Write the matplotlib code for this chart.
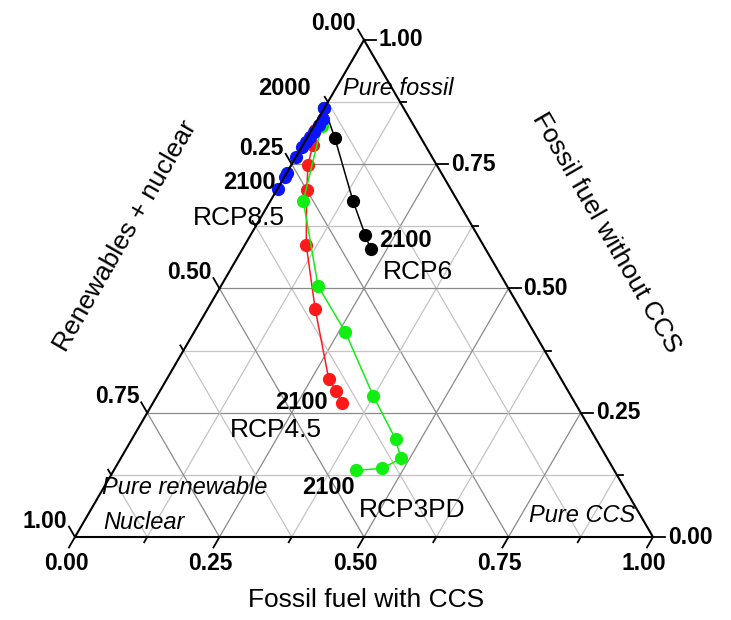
import numpy as np
import matplotlib.pyplot as plt

plt.rcParams['font.family'] = ['Liberation Sans', 'DejaVu Sans']

# shares of fossil fuel with CCS and fossil fuel without CCS, 2000 -> 2100
# (renewables + nuclear is the remainder)
rcp85_ccs = [0.0, 0.008, 0.008, 0.006, 0.004, 0.002, 0.0, 0.0, 0.0, 0.0, 0.0]
rcp85_fossil = [0.863, 0.842, 0.829, 0.815, 0.805, 0.795, 0.785, 0.765, 0.732, 0.725, 0.701]

rcp6_ccs = [0.0, 0.048, 0.143, 0.198, 0.222]
rcp6_fossil = [0.863, 0.803, 0.676, 0.608, 0.579]

rcp45_ccs = [0.0, 0.005, 0.017, 0.029, 0.052, 0.106, 0.186, 0.280, 0.305, 0.327]
rcp45_fossil = [0.863, 0.819, 0.789, 0.748, 0.698, 0.588, 0.459, 0.318, 0.294, 0.270]

rcp3_ccs = [0.0, 0.013, 0.057, 0.168, 0.261, 0.374, 0.456, 0.485, 0.462, 0.419]
rcp3_fossil = [0.863, 0.827, 0.676, 0.505, 0.413, 0.284, 0.197, 0.158, 0.138, 0.134]

ticks = [0.0, 0.25, 0.5, 0.75, 1.0]
minor = [0.125, 0.375, 0.625, 0.875]

H = np.sqrt(3) / 2


def tern(ccs, fossil):
    ccs = np.asarray(ccs)
    fossil = np.asarray(fossil)
    return ccs + fossil / 2, fossil * H


fig = plt.figure(figsize=(7.31, 6.2), dpi=100)
ax = fig.add_axes([0, 0, 1, 1])
ax.set_xlim(-75 / 578, (731 - 75) / 578)
ax.set_ylim(-83 / 573.9, (620 - 83) / 573.9)
ax.axis('off')

# grid
for v in sorted(ticks[1:-1] + minor):
    col = '#8a8a8a' if v in ticks else '#c4c4c4'
    # fossil = v (horizontal)
    x, y = tern([0, 1 - v], [v, v])
    ax.plot(x, y, color=col, lw=0.9, zorder=1)
    # ccs = v (parallel to left edge)
    x, y = tern([v, v], [0, 1 - v])
    ax.plot(x, y, color=col, lw=0.9, zorder=1)
    # renew = v (parallel to right edge)
    x, y = tern([0, 1 - v], [1 - v, 0])
    ax.plot(x, y, color=col, lw=0.9, zorder=1)

# series
series = [
    (rcp6_ccs, rcp6_fossil, 'black'),
    (rcp45_ccs, rcp45_fossil, '#ff1a1a'),
    (rcp3_ccs, rcp3_fossil, '#11ee11'),
    (rcp85_ccs, rcp85_fossil, '#0a14ff'),
]
for c, f, col in series:
    x, y = tern(c, f)
    ax.plot(x, y, '-o', color=col, lw=1.1, ms=8.5, zorder=3)

# triangle
x, y = tern([0, 1, 0, 0], [0, 0, 1, 0])
ax.plot(x, y, color='black', lw=1.5, zorder=4, solid_joinstyle='miter')

# ticks and tick labels
big, small = 0.021, 0.0105
for v in ticks + minor:
    L = big if v in ticks else small
    # bottom: fossil with CCS
    x0, y0 = tern(v, 0)
    ax.plot([x0, x0 - 0.5 * L], [y0, y0 - H * L], color='black', lw=1.3, zorder=4)
    # right: fossil without CCS
    x1, y1 = tern(1 - v, v)
    ax.plot([x1, x1 + L], [y1, y1], color='black', lw=1.3, zorder=4)
    # left: renewables + nuclear
    x2, y2 = tern(0, 1 - v)
    ax.plot([x2, x2 - 0.5 * L], [y2, y2 + H * L], color='black', lw=1.3, zorder=4)
    if v in ticks:
        lab = f'{v:.2f}'
        ax.annotate(lab, (x0, y0), xytext=(-9, -26), textcoords='offset pixels',
                    ha='center', va='center', fontsize=16.5, fontweight='bold')
        ax.annotate(lab, (x1, y1), xytext=(15, 0), textcoords='offset pixels',
                    ha='left', va='center', fontsize=16.5, fontweight='bold')
        ax.annotate(lab, (x2, y2), xytext=(-8, 16), textcoords='offset pixels',
                    ha='right', va='center', fontsize=16.5, fontweight='bold')

# axis titles
ax.text(0.503, -0.1098, 'Fossil fuel with CCS', ha='center', va='center', fontsize=19)
ax.text(0.0865, 0.5245, 'Renewables + nuclear', ha='center', va='center',
        fontsize=19, rotation=60, rotation_mode='anchor')
ax.text(0.919, 0.5297, 'Fossil fuel without CCS', ha='center', va='center',
        fontsize=19, rotation=-60, rotation_mode='anchor')

# annotations
bold = dict(ha='center', va='center', fontsize=17, fontweight='bold')
ax.text(0.363, 0.782, '2000', **bold)
ax.text(0.301, 0.617, '2100', **bold)
ax.text(0.571, 0.5175, '2100', **bold)
ax.text(0.391, 0.2335, '2100', **bold)
ax.text(0.438, 0.0854, '2100', **bold)

rcp = dict(ha='center', va='center', fontsize=19)
ax.text(0.283, 0.556, 'RCP8.5', **rcp)
ax.text(0.594, 0.4618, 'RCP6', **rcp)
ax.text(0.348, 0.1864, 'RCP4.5', **rcp)
ax.text(0.584, 0.047, 'RCP3PD', **rcp)

ital = dict(ha='center', va='center', fontsize=17, style='italic')
ax.text(0.559, 0.782, 'Pure fossil', **ital)
ax.text(0.190, 0.0854, 'Pure renewable', **ital)
ax.text(0.1185, 0.0244, 'Nuclear', **ital)
ax.text(0.878, 0.0383, 'Pure CCS', **ital)

fig.savefig('out.png', dpi=100)
